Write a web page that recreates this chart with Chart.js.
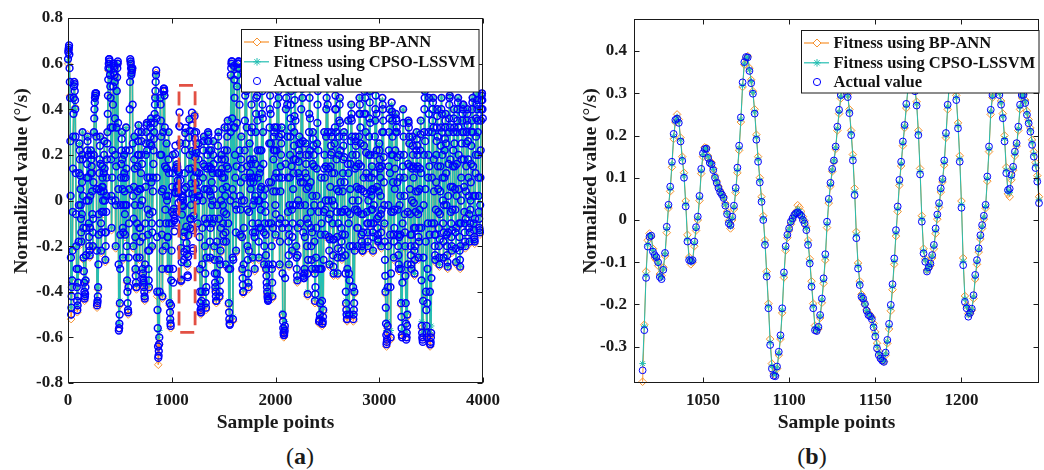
<!DOCTYPE html>
<html>
<head>
<meta charset="utf-8">
<script src="https://cdn.jsdelivr.net/npm/chart.js@4.4.0/dist/chart.umd.min.js"></script>
<style>
  body { margin: 0; background: #fff; width: 1044px; height: 470px; position: relative; overflow: hidden; }
  canvas { position: absolute; top: 0; }
  #chartA { left: 0; }
  #chartB { left: 560px; }
  .tag { position: absolute; font-family: 'Liberation Serif', serif; font-size: 24px; color: #1a1a1a; transform: translate(-50%, -50%); white-space: nowrap; }
</style>
</head>
<body>
<canvas id="chartA" width="530" height="440"></canvas>
<canvas id="chartB" width="484" height="440"></canvas>
<div class="tag" style="left:300px; top:456px">(<b>a</b>)</div>
<div class="tag" style="left:812px; top:456px">(<b>b</b>)</div>
<script>
// ---- panel (a): whole record ----
const stepA = 10;
const xTicksA = [0, 1000, 2000, 3000, 4000];
const yTicksA = [-0.8, -0.6, -0.4, -0.2, 0, 0.2, 0.4, 0.6, 0.8];

// actual value at samples 0, 10, 20, ...
const actualA = [
  0.62, 0.68, 0.45, -0.50, -0.35, 0.28, 0.52, 0.40, -0.20, -0.48, -0.30, 0.25, 0.05, -0.18, 0.30, -0.25, -0.43, -0.35, 0.10, 0.28,
  -0.10, -0.24, 0.22, 0.12, -0.20, 0.30, 0.45, 0.47, -0.46, -0.38, 0.05, 0.28, -0.22, 0.15, -0.05, 0.26, -0.26, 0.02, 0.30, 0.58,
  0.61, 0.45, -0.12, 0.32, 0.60, 0.52, -0.20, 0.48, 0.61, -0.57, -0.45, 0.10, 0.30, -0.25, 0.20, -0.15, 0.32, -0.35, -0.49, 0.05,
  0.62, 0.55, 0.58, -0.20, 0.28, -0.30, -0.38, 0.15, 0.33, -0.25, 0.05, 0.30, -0.30, -0.36, -0.43, 0.20, 0.34, -0.15, -0.38, 0.25,
  0.36, -0.20, 0.10, 0.30, 0.45, 0.57, -0.40, -0.69, -0.60, 0.45, 0.20, -0.42, 0.48, 0.46, -0.20, 0.25, -0.30, 0.30, -0.45, -0.55,
  -0.10, 0.20, -0.037, 0.036, 0.032, 0.158, 0.066, 0.124, 0.252, -0.352, -0.020, -0.024, -0.138, 0.296, -0.115, -0.276, -0.152, 0.355, -0.122, 0.141,
  0.029, -0.067, 0.370, 0.126, 0.209, -0.10, 0.25, -0.30, -0.49, -0.40, 0.10, 0.28, -0.20, -0.47, 0.05, 0.30, 0.15, -0.25, 0.22, -0.10,
  0.26, -0.20, -0.38, -0.44, 0.12, 0.30, -0.42, -0.22, 0.20, 0.05, -0.18, 0.32, -0.28, 0.15, 0.35, -0.45, -0.545, 0.55, 0.61, -0.52,
  0.59, 0.20, -0.22, 0.50, 0.60, 0.58, -0.15, 0.28, -0.30, -0.40, 0.10, 0.55, 0.48, -0.20, -0.38, 0.25, 0.05, 0.52, -0.25, 0.18,
  -0.30, 0.30, 0.55, 0.10, -0.25, 0.22, -0.12, 0.52, 0.30, -0.28, 0.05, -0.30, -0.40, -0.435, 0.25, 0.50, -0.10, -0.42, 0.18, 0.32,
  -0.15, 0.22, 0.55, 0.45, -0.28, 0.15, 0.32, -0.50, -0.59, -0.55, 0.40, 0.55, -0.05, -0.28, 0.20, 0.48, -0.22, 0.05, 0.30, 0.52,
  -0.20, -0.35, 0.12, 0.28, -0.10, 0.55, 0.45, -0.33, -0.30, 0.25, 0.05, -0.41, 0.20, 0.50, -0.05, -0.30, 0.30, 0.15, -0.44, -0.25,
  0.25, 0.50, -0.53, -0.45, 0.10, -0.54, -0.48, 0.30, -0.15, 0.40, 0.55, 0.00, -0.28, 0.15, 0.30, -0.10, -0.32, 0.25, 0.50, 0.05,
  -0.32, 0.20, 0.45, -0.05, -0.25, 0.12, 0.30, -0.15, -0.45, -0.52, 0.35, -0.50, 0.05, 0.42, 0.20, -0.52, -0.40, 0.28, 0.15, -0.20,
  0.05, 0.45, 0.25, -0.15, -0.22, 0.10, 0.55, 0.30, -0.05, -0.20, 0.20, 0.48, -0.10, 0.15, -0.22, 0.05, 0.35, 0.52, -0.08, -0.18,
  0.25, 0.10, -0.20, 0.45, 0.30, -0.10, -0.40, -0.63, -0.55, 0.15, 0.40, -0.60, 0.43, 0.20, -0.25, 0.05, 0.38, 0.30, -0.15, -0.30,
  0.20, -0.45, -0.60, 0.40, 0.10, -0.20, -0.61, -0.50, 0.35, 0.25, -0.15, -0.30, 0.28, 0.10, -0.32, -0.05, 0.30, 0.15, -0.25, 0.05,
  0.35, -0.55, -0.62, 0.20, 0.48, -0.40, -0.60, 0.10, 0.45, -0.63, -0.58, 0.30, 0.45, -0.10, -0.26, 0.20, 0.40, -0.05, -0.28, 0.15,
  0.45, 0.10, -0.25, 0.22, 0.38, -0.15, -0.29, 0.30, 0.46, -0.05, -0.22, 0.15, 0.40, 0.05, -0.27, 0.30, 0.45, -0.10, -0.29, 0.10,
  0.35, 0.42, -0.05, -0.20, 0.25, 0.40, 0.10, -0.18, 0.00, 0.30, 0.45, -0.10, -0.18, 0.20, 0.47, 0.30, -0.05, -0.14, 0.35, 0.47
];

// actual value at samples 3, 13, 23, ...
const actualA3 = [
  0.65, 0.64, 0.26, -0.47, -0.22, 0.38, 0.51, 0.28, -0.30, -0.46, -0.18, 0.22, -0.02, -0.06, 0.18, -0.31, -0.42, -0.24, 0.16, 0.20,
  -0.16, -0.12, 0.20, 0.04, -0.08, 0.36, 0.46, 0.28, -0.45, -0.28, 0.12, 0.16, -0.14, 0.10, 0.04, 0.14, -0.20, 0.10, 0.38, 0.60,
  0.58, 0.32, 0.00, 0.42, 0.59, 0.36, -0.02, 0.54, 0.34, -0.56, -0.30, 0.16, 0.18, -0.14, 0.12, -0.02, 0.14, -0.40, -0.38, 0.22,
  0.61, 0.56, 0.42, -0.08, 0.14, -0.33, -0.25, 0.20, 0.20, -0.18, 0.12, 0.16, -0.32, -0.38, -0.28, 0.25, 0.22, -0.22, -0.22, 0.28,
  0.24, -0.14, 0.16, 0.34, 0.48, 0.36, -0.48, -0.68, -0.40, 0.42, 0.04, -0.22, 0.49, 0.32, -0.10, 0.14, -0.16, 0.12, -0.49, -0.46,
  -0.05, -0.30, -0.088, 0.204, -0.097, 0.147, 0.034, 0.326, 0.089, -0.347, 0.012, -0.158, 0.050, 0.318, -0.186, -0.328, 0.032, 0.305, -0.083, 0.330,
  -0.209, 0.010, 0.273, 0.221, 0.123, 0.02, 0.12, -0.40, -0.49, -0.28, 0.16, 0.15, -0.32, -0.38, 0.14, 0.29, 0.04, -0.12, 0.14, 0.00,
  0.16, -0.26, -0.40, -0.32, 0.18, 0.12, -0.40, -0.12, 0.18, -0.02, -0.05, 0.18, -0.18, 0.22, 0.14, -0.49, -0.30, 0.58, 0.36, -0.26,
  0.53, 0.10, -0.04, 0.55, 0.61, 0.42, -0.04, 0.14, -0.34, -0.28, 0.22, 0.54, 0.32, -0.26, -0.22, 0.18, 0.16, 0.32, -0.14, 0.10,
  -0.14, 0.38, 0.46, 0.00, -0.12, 0.14, 0.06, 0.48, 0.16, -0.20, -0.05, -0.33, -0.42, -0.28, 0.32, 0.38, -0.20, -0.28, 0.22, 0.22,
  -0.06, 0.32, 0.54, 0.28, -0.18, 0.20, 0.10, -0.53, -0.59, -0.34, 0.45, 0.42, -0.12, -0.15, 0.28, 0.32, -0.16, 0.12, 0.37, 0.35,
  -0.25, -0.24, 0.17, 0.20, 0.08, 0.54, 0.26, -0.34, -0.16, 0.20, -0.08, -0.26, 0.30, 0.36, -0.12, -0.14, 0.27, -0.02, -0.41, -0.12,
  0.34, 0.22, -0.53, -0.30, -0.10, -0.54, -0.26, 0.20, 0.00, 0.45, 0.42, -0.08, -0.17, 0.20, 0.21, -0.17, -0.17, 0.32, 0.40, -0.05,
  -0.21, 0.28, 0.34, -0.12, -0.15, 0.18, 0.19, -0.24, -0.48, -0.30, 0.12, -0.35, 0.16, 0.38, 0.00, -0.50, -0.22, 0.26, 0.06, -0.12,
  0.16, 0.42, 0.15, -0.18, -0.14, 0.24, 0.50, 0.21, -0.10, -0.10, 0.28, 0.34, -0.04, 0.05, -0.16, 0.12, 0.40, 0.38, -0.12, -0.07,
  0.22, 0.02, -0.04, 0.42, 0.19, -0.18, -0.47, -0.62, -0.38, 0.22, 0.12, -0.32, 0.39, 0.08, -0.18, 0.14, 0.36, 0.19, -0.20, -0.16,
  0.02, -0.51, -0.36, 0.34, 0.02, -0.33, -0.60, -0.28, 0.34, 0.15, -0.20, -0.15, 0.24, -0.01, -0.26, 0.04, 0.27, 0.04, -0.18, 0.14,
  0.12, -0.58, -0.44, 0.30, 0.26, -0.48, -0.45, 0.20, 0.15, -0.63, -0.34, 0.35, 0.32, -0.15, -0.15, 0.26, 0.28, -0.12, -0.17, 0.24,
  0.38, 0.00, -0.14, 0.27, 0.25, -0.20, -0.14, 0.36, 0.32, -0.10, -0.13, 0.22, 0.32, -0.04, -0.12, 0.35, 0.32, -0.16, -0.20, 0.18,
  0.38, 0.30, -0.10, -0.08, 0.30, 0.33, 0.02, -0.14, 0.08, 0.35, 0.30, -0.13, -0.08, 0.28, 0.44, 0.20, -0.08, -0.02, 0.40, 0.44
];

// actual value at samples 5, 15, 25, ...
const actualA5 = [
  0.66, 0.58, 0.02, -0.42, -0.05, 0.45, 0.48, 0.12, -0.38, -0.42, -0.02, 0.18, -0.08, 0.08, 0.02, -0.36, -0.41, -0.12, 0.22, 0.10,
  -0.20, 0.02, 0.18, -0.06, 0.08, 0.40, 0.47, 0.05, -0.44, -0.15, 0.18, 0.04, -0.05, 0.06, 0.12, 0.00, -0.14, 0.18, 0.46, 0.62,
  0.55, 0.18, 0.10, 0.50, 0.58, 0.20, 0.15, 0.58, 0.05, -0.54, -0.15, 0.22, 0.05, -0.02, 0.04, 0.10, -0.02, -0.45, -0.25, 0.40,
  0.60, 0.57, 0.25, 0.06, -0.02, -0.36, -0.10, 0.26, 0.05, -0.12, 0.20, 0.00, -0.34, -0.40, -0.10, 0.30, 0.10, -0.30, -0.06, 0.32,
  0.08, -0.05, 0.22, 0.38, 0.52, 0.10, -0.56, -0.66, -0.10, 0.35, -0.15, 0.05, 0.49, 0.15, 0.02, 0.00, 0.02, -0.10, -0.52, -0.35,
  0.06, -0.36, -0.135, 0.24, -0.05, 0.13, -0.01, 0.386, 0.00, -0.27, 0.018, -0.26, 0.12, 0.25, -0.215, -0.336, 0.138, 0.20, -0.02, 0.385,
  -0.22, 0.10, 0.19, 0.30, 0.04, 0.08, 0.02, -0.45, -0.47, -0.12, 0.22, 0.05, -0.40, -0.25, 0.20, 0.26, -0.08, 0.02, 0.08, 0.12,
  0.05, -0.32, -0.42, -0.18, 0.24, -0.08, -0.35, 0.00, 0.14, -0.10, 0.10, 0.02, -0.06, 0.28, -0.10, -0.52, 0.00, 0.60, 0.05, 0.02,
  0.45, -0.02, 0.15, 0.58, 0.61, 0.22, 0.08, 0.00, -0.37, -0.12, 0.35, 0.53, 0.15, -0.32, -0.05, 0.12, 0.30, 0.10, -0.02, 0.00,
  0.02, 0.45, 0.35, -0.10, 0.00, 0.05, 0.22, 0.42, 0.02, -0.10, -0.15, -0.36, -0.43, -0.10, 0.40, 0.25, -0.30, -0.12, 0.28, 0.10,
  0.04, 0.42, 0.52, 0.10, -0.08, 0.25, -0.12, -0.56, -0.58, -0.10, 0.50, 0.28, -0.18, -0.02, 0.36, 0.15, -0.10, 0.18, 0.44, 0.18,
  -0.30, -0.12, 0.22, 0.10, 0.25, 0.52, 0.08, -0.34, -0.02, 0.16, -0.20, -0.10, 0.38, 0.22, -0.20, 0.02, 0.24, -0.18, -0.38, 0.02,
  0.42, -0.05, -0.52, -0.15, -0.30, -0.53, -0.05, 0.10, 0.15, 0.50, 0.30, -0.16, -0.06, 0.24, 0.12, -0.24, -0.02, 0.40, 0.30, -0.16,
  -0.10, 0.35, 0.22, -0.18, -0.05, 0.24, 0.08, -0.32, -0.50, -0.05, -0.10, -0.20, 0.26, 0.35, -0.20, -0.48, -0.04, 0.24, -0.04, -0.05,
  0.28, 0.38, 0.05, -0.20, -0.06, 0.38, 0.45, 0.12, -0.14, 0.00, 0.36, 0.20, 0.02, -0.04, -0.10, 0.20, 0.46, 0.22, -0.15, 0.04,
  0.18, -0.06, 0.15, 0.40, 0.08, -0.26, -0.54, -0.61, -0.20, 0.30, -0.15, -0.05, 0.35, -0.05, -0.12, 0.22, 0.35, 0.08, -0.24, -0.02,
  -0.15, -0.56, -0.10, 0.28, -0.06, -0.45, -0.58, -0.05, 0.32, 0.05, -0.24, 0.00, 0.20, -0.12, -0.20, 0.14, 0.24, -0.06, -0.12, 0.22,
  -0.12, -0.60, -0.25, 0.40, 0.05, -0.55, -0.30, 0.30, -0.15, -0.62, -0.10, 0.40, 0.18, -0.20, -0.04, 0.32, 0.15, -0.20, -0.06, 0.32,
  0.30, -0.10, -0.02, 0.32, 0.12, -0.24, 0.02, 0.42, 0.18, -0.16, -0.04, 0.30, 0.25, -0.14, 0.02, 0.40, 0.20, -0.22, -0.10, 0.25,
  0.40, 0.18, -0.14, 0.04, 0.35, 0.26, -0.06, -0.10, 0.16, 0.40, 0.15, -0.16, 0.02, 0.36, 0.40, 0.10, -0.12, 0.10, 0.44, 0.40
];

// actual value at samples 8, 18, 28, ...
const actualA8 = [
  0.67, 0.52, -0.25, -0.38, 0.14, 0.50, 0.44, -0.06, -0.44, -0.36, 0.12, 0.11, -0.14, 0.20, -0.12, -0.40, -0.38, 0.00, 0.26, 0.00,
  -0.22, 0.12, 0.15, -0.14, 0.20, 0.43, 0.47, -0.22, -0.42, -0.06, 0.24, -0.10, 0.06, 0.00, 0.20, -0.14, -0.05, 0.25, 0.53, 0.62,
  0.50, 0.02, 0.22, 0.56, 0.55, 0.00, 0.32, 0.60, -0.28, -0.50, -0.02, 0.27, -0.12, 0.10, -0.06, 0.22, -0.20, -0.48, -0.10, 0.52,
  0.58, 0.58, 0.02, 0.18, -0.16, -0.38, 0.04, 0.30, -0.12, -0.02, 0.26, -0.16, -0.35, -0.42, 0.06, 0.33, -0.04, -0.35, 0.10, 0.34,
  -0.10, 0.04, 0.27, 0.42, 0.55, -0.16, -0.64, -0.63, 0.20, 0.28, -0.30, 0.30, 0.48, -0.04, 0.14, -0.16, 0.18, -0.30, -0.54, -0.22,
  0.12, -0.063, -0.078, 0.140, 0.057, 0.088, 0.034, 0.324, -0.209, -0.062, 0.000, -0.225, 0.221, 0.059, -0.235, -0.246, 0.275, -0.079, 0.075, 0.217,
  -0.130, 0.296, 0.074, 0.249, 0.00, 0.18, -0.16, -0.48, -0.44, 0.00, 0.26, -0.08, -0.45, -0.10, 0.26, 0.22, -0.18, 0.14, -0.02, 0.20,
  -0.08, -0.36, -0.44, -0.02, 0.28, -0.26, -0.28, 0.12, 0.10, -0.15, 0.22, -0.14, 0.06, 0.32, -0.30, -0.54, 0.30, 0.61, -0.25, 0.32,
  0.32, -0.14, 0.34, 0.60, 0.60, 0.02, 0.18, -0.16, -0.40, 0.00, 0.46, 0.50, -0.04, -0.36, 0.10, 0.08, 0.42, -0.10, 0.08, -0.16,
  0.16, 0.52, 0.22, -0.18, 0.12, -0.04, 0.38, 0.36, -0.14, -0.02, -0.24, -0.38, -0.44, 0.08, 0.46, 0.08, -0.36, 0.04, 0.30, -0.02,
  0.12, 0.50, 0.48, -0.10, 0.04, 0.29, -0.32, -0.58, -0.57, 0.16, 0.53, 0.10, -0.24, 0.10, 0.42, -0.04, -0.02, 0.24, 0.49, -0.02,
  -0.33, 0.00, 0.25, -0.02, 0.40, 0.49, -0.14, -0.32, 0.12, 0.10, -0.32, 0.06, 0.45, 0.08, -0.26, 0.16, 0.20, -0.32, -0.30, 0.14,
  0.48, -0.30, -0.50, -0.02, -0.44, -0.51, 0.14, -0.04, 0.28, 0.53, 0.14, -0.22, 0.06, 0.28, 0.00, -0.29, 0.12, 0.46, 0.18, -0.25,
  0.04, 0.42, 0.08, -0.22, 0.04, 0.28, -0.04, -0.40, -0.52, 0.16, -0.32, -0.06, 0.36, 0.28, -0.38, -0.45, 0.14, 0.20, -0.12, 0.00,
  0.38, 0.32, -0.06, -0.22, 0.04, 0.48, 0.38, 0.03, -0.18, 0.10, 0.43, 0.04, 0.10, -0.14, -0.02, 0.28, 0.50, 0.06, -0.17, 0.15,
  0.14, -0.14, 0.30, 0.35, -0.02, -0.33, -0.59, -0.58, -0.02, 0.36, -0.38, 0.20, 0.28, -0.15, -0.04, 0.30, 0.32, -0.04, -0.28, 0.10,
  -0.30, -0.59, 0.15, 0.20, -0.14, -0.54, -0.55, 0.16, 0.28, -0.06, -0.28, 0.14, 0.15, -0.22, -0.12, 0.22, 0.20, -0.16, -0.04, 0.29,
  -0.35, -0.61, -0.02, 0.45, -0.18, -0.58, -0.10, 0.38, -0.40, -0.60, 0.10, 0.43, 0.04, -0.24, 0.08, 0.37, 0.05, -0.25, 0.04, 0.40,
  0.20, -0.18, 0.10, 0.35, -0.02, -0.27, 0.16, 0.45, 0.06, -0.20, 0.06, 0.36, 0.15, -0.21, 0.16, 0.43, 0.05, -0.26, 0.00, 0.30,
  0.42, 0.06, -0.18, 0.15, 0.38, 0.18, -0.12, -0.04, 0.24, 0.43, 0.02, -0.17, 0.12, 0.42, 0.35, 0.02, -0.13, 0.22, 0.46, 0.36
];

// fitted values at samples 0, 10, 20, ...
const lssvmA = [
  0.61, 0.67, 0.45, -0.47, -0.34, 0.28, 0.51, 0.40, -0.20, -0.46, -0.30, 0.25, 0.05, -0.18, 0.30, -0.25, -0.42, -0.35, 0.10, 0.28,
  -0.10, -0.24, 0.22, 0.12, -0.20, 0.30, 0.44, 0.46, -0.44, -0.38, 0.05, 0.28, -0.22, 0.15, -0.05, 0.26, -0.26, 0.02, 0.30, 0.57,
  0.60, 0.45, -0.12, 0.32, 0.59, 0.52, -0.20, 0.48, 0.60, -0.54, -0.44, 0.10, 0.30, -0.25, 0.20, -0.15, 0.32, -0.35, -0.47, 0.05,
  0.61, 0.55, 0.57, -0.20, 0.28, -0.30, -0.37, 0.15, 0.33, -0.25, 0.05, 0.30, -0.30, -0.36, -0.42, 0.20, 0.34, -0.15, -0.37, 0.25,
  0.36, -0.20, 0.10, 0.30, 0.45, 0.55, -0.40, -0.60, -0.57, 0.45, 0.20, -0.41, 0.47, 0.46, -0.20, 0.25, -0.30, 0.30, -0.44, -0.53,
  -0.10, 0.20, -0.04, 0.04, 0.03, 0.16, 0.07, 0.12, 0.25, -0.34, -0.02, -0.02, -0.14, 0.30, -0.12, -0.28, -0.15, 0.36, -0.12, 0.21,
  0.03, -0.07, 0.38, 0.16, 0.21, -0.10, 0.25, -0.30, -0.47, -0.40, 0.10, 0.28, -0.20, -0.46, 0.05, 0.30, 0.15, -0.25, 0.22, -0.10,
  0.26, -0.20, -0.38, -0.43, 0.12, 0.30, -0.41, -0.22, 0.20, 0.05, -0.18, 0.32, -0.28, 0.15, 0.35, -0.44, -0.53, 0.54, 0.60, -0.51,
  0.58, 0.20, -0.22, 0.50, 0.59, 0.57, -0.15, 0.28, -0.30, -0.39, 0.10, 0.54, 0.48, -0.20, -0.37, 0.25, 0.05, 0.51, -0.25, 0.18,
  -0.30, 0.30, 0.54, 0.10, -0.25, 0.22, -0.12, 0.51, 0.30, -0.28, 0.05, -0.30, -0.40, -0.43, 0.25, 0.49, -0.10, -0.41, 0.18, 0.32,
  -0.15, 0.22, 0.54, 0.45, -0.28, 0.15, 0.32, -0.49, -0.56, -0.53, 0.40, 0.54, -0.05, -0.28, 0.20, 0.48, -0.22, 0.05, 0.30, 0.51,
  -0.20, -0.35, 0.12, 0.28, -0.10, 0.54, 0.45, -0.33, -0.30, 0.25, 0.05, -0.40, 0.20, 0.49, -0.05, -0.30, 0.30, 0.15, -0.43, -0.25,
  0.25, 0.49, -0.51, -0.45, 0.10, -0.52, -0.47, 0.30, -0.15, 0.40, 0.54, 0.00, -0.28, 0.15, 0.30, -0.10, -0.32, 0.25, 0.49, 0.05,
  -0.32, 0.20, 0.44, -0.05, -0.25, 0.12, 0.30, -0.15, -0.44, -0.50, 0.35, -0.49, 0.05, 0.42, 0.20, -0.50, -0.40, 0.28, 0.15, -0.20,
  0.05, 0.45, 0.25, -0.15, -0.22, 0.10, 0.54, 0.30, -0.05, -0.20, 0.20, 0.47, -0.10, 0.15, -0.22, 0.05, 0.35, 0.51, -0.08, -0.18,
  0.25, 0.10, -0.20, 0.44, 0.30, -0.10, -0.39, -0.57, -0.53, 0.15, 0.40, -0.57, 0.42, 0.20, -0.25, 0.05, 0.38, 0.30, -0.15, -0.30,
  0.20, -0.44, -0.57, 0.40, 0.10, -0.20, -0.58, -0.49, 0.35, 0.25, -0.15, -0.30, 0.28, 0.10, -0.32, -0.05, 0.30, 0.15, -0.25, 0.05,
  0.35, -0.53, -0.58, 0.20, 0.47, -0.40, -0.57, 0.10, 0.45, -0.58, -0.55, 0.30, 0.45, -0.10, -0.26, 0.20, 0.40, -0.05, -0.28, 0.15,
  0.45, 0.10, -0.25, 0.22, 0.38, -0.15, -0.29, 0.30, 0.46, -0.05, -0.22, 0.15, 0.40, 0.05, -0.27, 0.30, 0.45, -0.10, -0.29, 0.10,
  0.35, 0.42, -0.05, -0.20, 0.25, 0.40, 0.10, -0.18, 0.00, 0.30, 0.45, -0.10, -0.18, 0.20, 0.47, 0.30, -0.05, -0.14, 0.35, 0.46
];

const bpA = [
  0.60, 0.66, 0.46, -0.52, -0.36, 0.27, 0.52, 0.41, -0.21, -0.49, -0.31, 0.25, 0.06, -0.19, 0.30, -0.26, -0.44, -0.36, 0.10, 0.29,
  -0.11, -0.25, 0.22, 0.13, -0.21, 0.30, 0.45, 0.46, -0.47, -0.39, 0.05, 0.28, -0.23, 0.15, -0.06, 0.26, -0.27, 0.02, 0.30, 0.57,
  0.60, 0.46, -0.13, 0.32, 0.59, 0.53, -0.21, 0.48, 0.60, -0.56, -0.46, 0.10, 0.30, -0.26, 0.20, -0.16, 0.32, -0.36, -0.50, 0.05,
  0.61, 0.56, 0.57, -0.21, 0.28, -0.31, -0.39, 0.15, 0.33, -0.26, 0.05, 0.30, -0.31, -0.37, -0.44, 0.20, 0.34, -0.16, -0.39, 0.25,
  0.36, -0.21, 0.10, 0.30, 0.46, 0.56, -0.42, -0.72, -0.63, 0.45, 0.20, -0.43, 0.48, 0.46, -0.21, 0.25, -0.31, 0.30, -0.46, -0.56,
  -0.11, 0.20, -0.05, 0.04, 0.03, 0.16, 0.07, 0.12, 0.25, -0.36, -0.02, -0.03, -0.15, 0.30, -0.13, -0.29, -0.16, 0.36, -0.13, 0.21,
  0.03, -0.08, 0.38, 0.16, 0.21, -0.11, 0.25, -0.31, -0.50, -0.41, 0.10, 0.28, -0.21, -0.48, 0.05, 0.30, 0.15, -0.26, 0.22, -0.11,
  0.26, -0.21, -0.39, -0.45, 0.12, 0.30, -0.43, -0.23, 0.20, 0.05, -0.19, 0.32, -0.29, 0.15, 0.35, -0.46, -0.53, 0.54, 0.60, -0.53,
  0.58, 0.20, -0.23, 0.50, 0.59, 0.58, -0.16, 0.28, -0.31, -0.41, 0.10, 0.54, 0.48, -0.21, -0.39, 0.25, 0.05, 0.52, -0.26, 0.18,
  -0.31, 0.30, 0.54, 0.10, -0.26, 0.22, -0.13, 0.52, 0.30, -0.29, 0.05, -0.31, -0.41, -0.44, 0.25, 0.50, -0.11, -0.43, 0.18, 0.32,
  -0.16, 0.22, 0.54, 0.45, -0.29, 0.15, 0.32, -0.51, -0.60, -0.56, 0.40, 0.54, -0.06, -0.29, 0.20, 0.48, -0.23, 0.05, 0.30, 0.52,
  -0.21, -0.36, 0.12, 0.28, -0.11, 0.54, 0.45, -0.34, -0.31, 0.25, 0.05, -0.42, 0.20, 0.50, -0.06, -0.31, 0.30, 0.15, -0.45, -0.26,
  0.25, 0.50, -0.54, -0.46, 0.10, -0.55, -0.49, 0.30, -0.16, 0.40, 0.54, 0.00, -0.29, 0.15, 0.30, -0.11, -0.33, 0.25, 0.50, 0.05,
  -0.33, 0.20, 0.45, -0.06, -0.26, 0.12, 0.30, -0.16, -0.46, -0.53, 0.35, -0.51, 0.05, 0.42, 0.20, -0.53, -0.41, 0.28, 0.15, -0.21,
  0.05, 0.45, 0.25, -0.16, -0.23, 0.10, 0.54, 0.30, -0.06, -0.21, 0.20, 0.48, -0.11, 0.15, -0.23, 0.05, 0.35, 0.52, -0.09, -0.19,
  0.25, 0.10, -0.21, 0.45, 0.30, -0.11, -0.41, -0.64, -0.56, 0.15, 0.40, -0.61, 0.43, 0.20, -0.26, 0.05, 0.38, 0.30, -0.16, -0.31,
  0.20, -0.46, -0.60, 0.40, 0.10, -0.21, -0.60, -0.51, 0.35, 0.25, -0.16, -0.31, 0.28, 0.10, -0.33, -0.06, 0.30, 0.15, -0.26, 0.05,
  0.35, -0.56, -0.60, 0.20, 0.48, -0.41, -0.61, 0.10, 0.45, -0.64, -0.59, 0.30, 0.45, -0.11, -0.27, 0.20, 0.40, -0.06, -0.29, 0.15,
  0.45, 0.10, -0.26, 0.22, 0.38, -0.16, -0.30, 0.30, 0.46, -0.06, -0.23, 0.15, 0.40, 0.05, -0.28, 0.30, 0.45, -0.11, -0.30, 0.10,
  0.35, 0.42, -0.06, -0.21, 0.25, 0.40, 0.10, -0.19, 0.00, 0.30, 0.45, -0.11, -0.19, 0.20, 0.47, 0.30, -0.06, -0.15, 0.35, 0.47
];

// dashed frame marking the enlarged stretch (data units)
const zoomBoxA = { x0: 1070, x1: 1225, y0: -0.578, y1: 0.505 };

// ---- panel (b): samples 1015..1245 ----
const startB = 1015;
const xTicksB = [1050, 1100, 1150, 1200];
const yTicksB = [-0.3, -0.2, -0.1, 0, 0.1, 0.2, 0.3, 0.4];

const actualB = [
  -0.356, -0.261, -0.137, -0.063, -0.040, -0.037, -0.075, -0.083, -0.088, -0.100,
  -0.135, -0.140, -0.118, -0.078, -0.016, 0.036, 0.079, 0.138, 0.204, 0.237,
  0.240, 0.230, 0.186, 0.140, 0.100, 0.032, -0.051, -0.095, -0.097, -0.095,
  -0.051, -0.017, 0.008, 0.057, 0.121, 0.158, 0.168, 0.169, 0.147, 0.135,
  0.132, 0.118, 0.100, 0.088, 0.076, 0.066, 0.060, 0.052, 0.034, 0.014,
  -0.008, -0.012, 0.008, 0.034, 0.076, 0.124, 0.176, 0.243, 0.326, 0.374,
  0.386, 0.385, 0.353, 0.324, 0.299, 0.252, 0.190, 0.138, 0.089, 0.043,
  0.000, -0.059, -0.134, -0.209, -0.296, -0.352, -0.369, -0.370, -0.347, -0.312,
  -0.273, -0.209, -0.124, -0.062, -0.035, -0.020, -0.004, 0.004, 0.012, 0.016,
  0.018, 0.014, 0.010, 0.000, -0.008, -0.024, -0.059, -0.103, -0.158, -0.209,
  -0.261, -0.263, -0.253, -0.225, -0.186, -0.138, -0.081, -0.004, 0.050, 0.088,
  0.121, 0.141, 0.174, 0.221, 0.261, 0.296, 0.330, 0.340, 0.318, 0.291,
  0.253, 0.201, 0.141, 0.059, -0.043, -0.115, -0.154, -0.182, -0.186, -0.199,
  -0.215, -0.225, -0.228, -0.235, -0.254, -0.276, -0.304, -0.320, -0.328, -0.333,
  -0.336, -0.314, -0.284, -0.246, -0.201, -0.152, -0.091, -0.024, 0.032, 0.095,
  0.138, 0.186, 0.225, 0.275, 0.320, 0.355, 0.370, 0.345, 0.305, 0.271,
  0.201, 0.108, -0.004, -0.079, -0.099, -0.122, -0.112, -0.103, -0.083, -0.059,
  -0.020, 0.013, 0.040, 0.075, 0.097, 0.141, 0.206, 0.273, 0.330, 0.375,
  0.385, 0.340, 0.284, 0.217, 0.138, 0.029, -0.107, -0.194, -0.209, -0.229,
  -0.220, -0.210, -0.178, -0.130, -0.095, -0.067, -0.036, -0.012, 0.010, 0.036,
  0.103, 0.174, 0.261, 0.296, 0.340, 0.370, 0.330, 0.296, 0.273, 0.241,
  0.186, 0.111, 0.071, 0.074, 0.107, 0.126, 0.162, 0.182, 0.221, 0.273,
  0.296, 0.296, 0.277, 0.249, 0.229, 0.209, 0.178, 0.150, 0.123, 0.091, 0.040
];

const lssvmB = [
  -0.340, -0.252, -0.130, -0.058, -0.036, -0.038, -0.072, -0.085, -0.090, -0.102,
  -0.132, -0.137, -0.116, -0.080, -0.022, 0.032, 0.074, 0.132, 0.198, 0.234,
  0.244, 0.234, 0.190, 0.145, 0.105, 0.038, -0.045, -0.092, -0.100, -0.097,
  -0.055, -0.020, 0.004, 0.052, 0.116, 0.155, 0.169, 0.170, 0.150, 0.137,
  0.134, 0.120, 0.102, 0.090, 0.078, 0.068, 0.061, 0.053, 0.036, 0.016,
  -0.005, -0.015, 0.004, 0.030, 0.070, 0.118, 0.170, 0.238, 0.318, 0.370,
  0.384, 0.386, 0.356, 0.328, 0.302, 0.256, 0.196, 0.144, 0.094, 0.048,
  0.004, -0.054, -0.128, -0.204, -0.290, -0.346, -0.364, -0.366, -0.350, -0.316,
  -0.278, -0.214, -0.130, -0.067, -0.038, -0.022, -0.007, 0.002, 0.011, 0.018,
  0.025, 0.020, 0.014, 0.004, -0.005, -0.020, -0.054, -0.098, -0.152, -0.204,
  -0.256, -0.262, -0.255, -0.228, -0.190, -0.144, -0.088, -0.010, 0.045, 0.084,
  0.118, 0.140, 0.171, 0.216, 0.256, 0.292, 0.328, 0.339, 0.320, 0.294,
  0.258, 0.206, 0.148, 0.067, -0.035, -0.108, -0.150, -0.179, -0.188, -0.199,
  -0.214, -0.222, -0.226, -0.232, -0.250, -0.270, -0.298, -0.315, -0.325, -0.331,
  -0.335, -0.317, -0.288, -0.252, -0.208, -0.158, -0.098, -0.031, 0.026, 0.088,
  0.133, 0.181, 0.221, 0.270, 0.315, 0.351, 0.369, 0.347, 0.308, 0.275,
  0.206, 0.115, 0.003, -0.073, -0.095, -0.120, -0.113, -0.105, -0.086, -0.063,
  -0.026, 0.008, 0.035, 0.070, 0.094, 0.136, 0.200, 0.268, 0.326, 0.372,
  0.384, 0.344, 0.290, 0.224, 0.145, 0.037, -0.098, -0.187, -0.205, -0.225,
  -0.221, -0.212, -0.182, -0.135, -0.100, -0.071, -0.040, -0.016, 0.006, 0.032,
  0.098, 0.168, 0.256, 0.293, 0.337, 0.369, 0.333, 0.300, 0.278, 0.246,
  0.193, 0.118, 0.067, 0.065, 0.101, 0.122, 0.157, 0.178, 0.216, 0.268,
  0.293, 0.297, 0.280, 0.253, 0.233, 0.213, 0.184, 0.156, 0.130, 0.098, 0.048
];

const bpB = [
  -0.383, -0.248, -0.122, -0.048, -0.032, -0.040, -0.068, -0.090, -0.095, -0.108,
  -0.128, -0.132, -0.112, -0.085, -0.030, 0.028, 0.068, 0.125, 0.192, 0.232,
  0.250, 0.238, 0.195, 0.150, 0.112, 0.045, -0.035, -0.088, -0.105, -0.100,
  -0.062, -0.025, 0.000, 0.046, 0.110, 0.150, 0.172, 0.171, 0.152, 0.140,
  0.136, 0.122, 0.105, 0.092, 0.080, 0.070, 0.062, 0.055, 0.040, 0.020,
  -0.002, -0.020, 0.000, 0.026, 0.065, 0.112, 0.165, 0.232, 0.315, 0.368,
  0.382, 0.388, 0.360, 0.332, 0.305, 0.262, 0.202, 0.150, 0.100, 0.055,
  0.010, -0.048, -0.122, -0.198, -0.282, -0.340, -0.362, -0.368, -0.352, -0.320,
  -0.282, -0.220, -0.136, -0.072, -0.042, -0.025, -0.010, 0.000, 0.010, 0.020,
  0.035, 0.030, 0.020, 0.008, -0.002, -0.016, -0.048, -0.092, -0.145, -0.198,
  -0.250, -0.262, -0.258, -0.232, -0.196, -0.150, -0.095, -0.018, 0.040, 0.080,
  0.115, 0.138, 0.168, 0.212, 0.252, 0.288, 0.325, 0.338, 0.322, 0.297,
  0.262, 0.212, 0.155, 0.075, -0.028, -0.102, -0.145, -0.176, -0.190, -0.200,
  -0.212, -0.220, -0.225, -0.230, -0.245, -0.265, -0.292, -0.310, -0.322, -0.330,
  -0.335, -0.320, -0.292, -0.258, -0.215, -0.165, -0.105, -0.038, 0.020, 0.082,
  0.128, 0.176, 0.218, 0.265, 0.310, 0.348, 0.368, 0.350, 0.312, 0.280,
  0.212, 0.122, 0.010, -0.068, -0.092, -0.118, -0.115, -0.108, -0.090, -0.068,
  -0.032, 0.002, 0.030, 0.066, 0.090, 0.130, 0.195, 0.262, 0.322, 0.370,
  0.384, 0.348, 0.295, 0.230, 0.152, 0.045, -0.090, -0.180, -0.202, -0.222,
  -0.222, -0.214, -0.186, -0.140, -0.105, -0.076, -0.045, -0.020, 0.002, 0.028,
  0.092, 0.162, 0.250, 0.290, 0.335, 0.368, 0.336, 0.304, 0.282, 0.252,
  0.200, 0.125, 0.062, 0.055, 0.095, 0.118, 0.152, 0.175, 0.212, 0.262,
  0.290, 0.298, 0.284, 0.258, 0.238, 0.218, 0.190, 0.162, 0.136, 0.105, 0.055
];

const seriesNames = ['Fitness using BP-ANN', 'Fitness using CPSO-LSSVM', 'Actual value'];

const ORANGE = 'rgb(247,146,46)';
const TEAL = 'rgb(36,190,178)';
const BLUE = 'rgb(0,0,255)';
const INK = '#1a1a1a';
const RED = 'rgb(226,80,68)';
const FONT = "'Liberation Serif', 'Times New Roman', serif";

Chart.defaults.font.family = FONT;
Chart.defaults.font.weight = 'bold';
Chart.defaults.color = INK;

const toPts = (vals, x0, step) => vals.map((v, i) => ({ x: x0 + i * step, y: v }));

function drawMarker(ctx, kind, cx, cy, color) {
  ctx.strokeStyle = color;
  ctx.lineWidth = 1;
  ctx.beginPath();
  if (kind === 'diamond') {
    const r = 4;
    ctx.moveTo(cx, cy - r); ctx.lineTo(cx + r, cy); ctx.lineTo(cx, cy + r); ctx.lineTo(cx - r, cy); ctx.closePath();
    ctx.fillStyle = '#fff'; ctx.fill();
  } else if (kind === 'star') {
    const r = 3.8, d = r * Math.SQRT1_2;
    ctx.moveTo(cx - r, cy); ctx.lineTo(cx + r, cy);
    ctx.moveTo(cx, cy - r); ctx.lineTo(cx, cy + r);
    ctx.moveTo(cx - d, cy - d); ctx.lineTo(cx + d, cy + d);
    ctx.moveTo(cx - d, cy + d); ctx.lineTo(cx + d, cy - d);
  } else {
    ctx.arc(cx, cy, 3.6, 0, Math.PI * 2);
  }
  ctx.stroke();
}

// axes box with inward ticks, zoom frame, boxed legend and y title, MATLAB style
const framePlugin = {
  id: 'frame',
  afterDatasetsDraw(chart, args, o) {
    const { ctx, chartArea: a, scales: { x, y } } = chart;
    ctx.save();

    if (o.box) {
      const l = x.getPixelForValue(o.box.x0), r = x.getPixelForValue(o.box.x1);
      const t = y.getPixelForValue(o.box.y1), b = y.getPixelForValue(o.box.y0);
      ctx.strokeStyle = RED;
      ctx.lineWidth = 2.8;
      ctx.setLineDash([14, 8]);
      ctx.strokeRect(l, t, r - l, b - t);
      ctx.setLineDash([]);
    }

    const L = Math.round(a.left) + 0.5, R = Math.round(a.right) - 0.5;
    const T = Math.round(a.top) + 0.5, B = Math.round(a.bottom) - 0.5;
    ctx.strokeStyle = INK;
    ctx.lineWidth = 1;
    ctx.strokeRect(L, T, R - L, B - T);
    ctx.beginPath();
    x.ticks.forEach(t => {
      const px = Math.round(x.getPixelForValue(t.value)) + 0.5;
      ctx.moveTo(px, B); ctx.lineTo(px, B - 5);
      ctx.moveTo(px, T); ctx.lineTo(px, T + 5);
    });
    y.ticks.forEach(t => {
      const py = Math.round(y.getPixelForValue(t.value)) + 0.5;
      ctx.moveTo(L, py); ctx.lineTo(L + 5, py);
      ctx.moveTo(R, py); ctx.lineTo(R - 5, py);
    });
    ctx.stroke();

    // legend
    const w = 237.5, h = 62.5;
    const bx = Math.round(a.right - o.legendDx - w) + 0.5;
    const by = Math.round(a.top + o.legendDy) + 0.5;
    ctx.fillStyle = '#fff';
    ctx.fillRect(bx, by, w, h);
    ctx.strokeStyle = INK;
    ctx.strokeRect(bx, by, w, h);
    const rows = [12.5, 32.3, 51.5];
    const kinds = ['diamond', 'star', 'circle'];
    const colors = [ORANGE, TEAL, BLUE];
    ctx.font = 'bold 16.5px ' + FONT;
    ctx.textBaseline = 'middle';
    ctx.textAlign = 'left';
    seriesNames.forEach((name, i) => {
      const ry = by + rows[i];
      if (i < 2) {
        ctx.strokeStyle = colors[i];
        ctx.lineWidth = 1.2;
        ctx.beginPath();
        ctx.moveTo(bx + 2.5, ry); ctx.lineTo(bx + 27.5, ry);
        ctx.stroke();
      }
      drawMarker(ctx, kinds[i], bx + 15.5, ry, colors[i]);
      ctx.fillStyle = '#111';
      ctx.fillText(name, bx + 32, ry + 1);
    });

    // y title
    ctx.translate(o.yTitleX, o.yTitleY);
    ctx.rotate(-Math.PI / 2);
    ctx.font = 'bold 19.5px ' + FONT;
    ctx.textAlign = 'center';
    ctx.fillStyle = INK;
    ctx.fillText('Normalized value (°/s)', 0, 0);
    ctx.restore();
  }
};

function scalesFor(xMin, xMax, xTicks, yMin, yMax, yTicks, yWidth, yPad) {
  return {
    x: {
      type: 'linear', min: xMin, max: xMax,
      grid: { display: false, drawTicks: false }, border: { display: false },
      afterBuildTicks: s => { s.ticks = xTicks.map(v => ({ value: v })); },
      afterFit: s => { s.height = 57; },
      ticks: { font: { size: 17, weight: 'bold' }, color: INK, padding: 7, maxRotation: 0, autoSkip: false, callback: v => String(v) },
      title: { display: true, text: 'Sample points', font: { size: 19.5, weight: 'bold' }, color: INK, padding: { top: 0, bottom: 5.6 } }
    },
    y: {
      type: 'linear', min: yMin, max: yMax,
      grid: { display: false, drawTicks: false }, border: { display: false },
      afterBuildTicks: s => { s.ticks = yTicks.map(v => ({ value: v })); },
      afterFit: s => { s.width = yWidth; },
      ticks: { font: { size: 17, weight: 'bold' }, color: INK, padding: yPad, autoSkip: false, callback: v => String(v) }
    }
  };
}

function datasetsFor(actualPts, lssvm, bp, x0, step, lw, ringW) {
  return [
    {
      label: seriesNames[2], data: actualPts, showLine: false,
      pointStyle: 'circle', pointRadius: 3.4, pointBorderWidth: ringW,
      pointBorderColor: BLUE, pointBackgroundColor: 'rgba(0,0,0,0)', clip: false
    },
    {
      label: seriesNames[1], data: toPts(lssvm, x0, step),
      borderColor: TEAL, borderWidth: lw, pointStyle: 'star', pointRadius: 3.3,
      pointBorderWidth: 1, pointBorderColor: TEAL, pointBackgroundColor: TEAL, tension: 0, clip: false
    },
    {
      label: seriesNames[0], data: toPts(bp, x0, step),
      borderColor: ORANGE, borderWidth: lw, pointStyle: 'rectRot', pointRadius: 3.8,
      pointBorderWidth: 1, pointBorderColor: ORANGE, pointBackgroundColor: 'rgba(0,0,0,0)', tension: 0, clip: false
    }
  ];
}

const actualPtsA = toPts(actualA, 0, stepA)
  .concat(toPts(actualA3, 3, stepA))
  .concat(toPts(actualA5, 5, stepA))
  .concat(toPts(actualA8, 8, stepA));

new Chart(document.getElementById('chartA'), {
  type: 'line',
  data: { datasets: datasetsFor(actualPtsA, lssvmA, bpA, 0, stepA, 1.6, 1.5) },
  options: {
    responsive: false, animation: false, events: [],
    layout: { padding: { left: 0, top: 18, right: 47, bottom: 0 } },
    scales: scalesFor(0, 4000, xTicksA, -0.8, 0.8, yTicksA, 68, 5),
    plugins: {
      legend: { display: false }, tooltip: { enabled: false },
      frame: { box: zoomBoxA, legendDx: 4.4, legendDy: 11, yTitleX: 21.5, yTitleY: 181 }
    }
  },
  plugins: [framePlugin]
});

new Chart(document.getElementById('chartB'), {
  type: 'line',
  data: { datasets: datasetsFor(toPts(actualB, startB, 1), lssvmB, bpB, startB, 1, 1, 1) },
  options: {
    responsive: false, animation: false, events: [],
    layout: { padding: { left: 0, top: 19, right: 1, bottom: 0 } },
    scales: scalesFor(1010, 1245, xTicksB, -0.386, 0.476, yTicksB, 74, 7),
    plugins: {
      legend: { display: false }, tooltip: { enabled: false },
      frame: { box: null, legendDx: 0.7, legendDy: 11, yTitleX: 31, yTitleY: 181 }
    }
  },
  plugins: [framePlugin]
});
</script>
</body>
</html>
